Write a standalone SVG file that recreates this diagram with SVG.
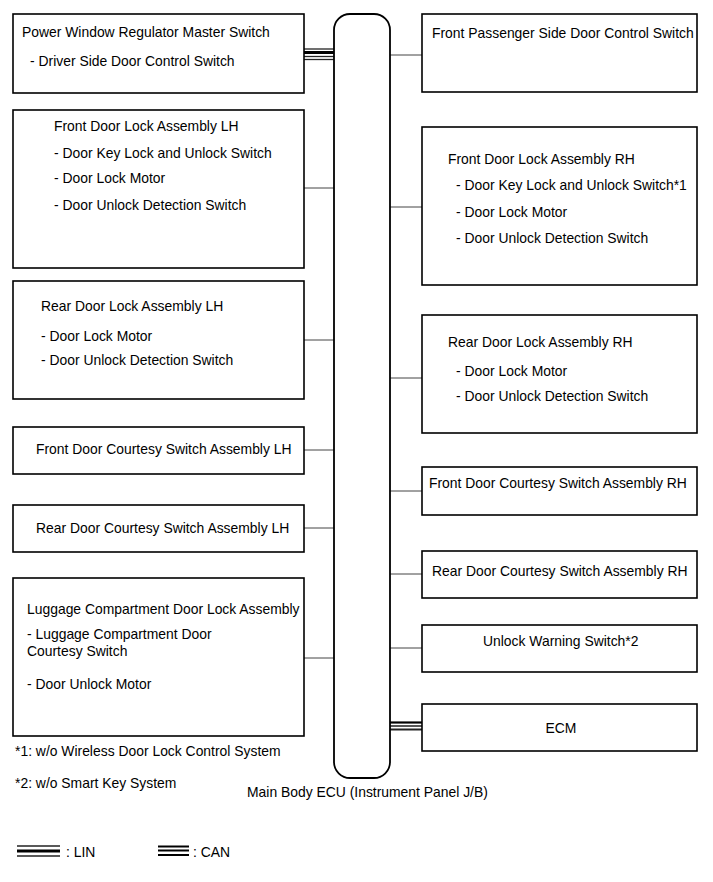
<svg xmlns="http://www.w3.org/2000/svg" width="713" height="882" viewBox="0 0 713 882">
<style>
.box{fill:#fff;stroke:#000;stroke-width:1.6}
.ecu{fill:#fff;stroke:#000;stroke-width:1.8}
.ln{stroke:#444;stroke-width:1;fill:none}
text{font-family:"Liberation Sans",Arial,sans-serif;font-size:13.9px;fill:#000}
.thk{stroke:#000;stroke-width:3}
.thn{stroke:#222;stroke-width:1.3}
</style>
<rect width="713" height="882" fill="#fff"/>
<g id="connectors">
  <line class="ln" x1="304" y1="188" x2="334" y2="188"/>
  <line class="ln" x1="304" y1="340" x2="334" y2="340"/>
  <line class="ln" x1="304" y1="450" x2="334" y2="450"/>
  <line class="ln" x1="304" y1="528" x2="334" y2="528"/>
  <line class="ln" x1="304" y1="658" x2="334" y2="658"/>
  <line class="ln" x1="390" y1="55" x2="422" y2="55"/>
  <line class="ln" x1="390" y1="207" x2="422" y2="207"/>
  <line class="ln" x1="390" y1="378" x2="422" y2="378"/>
  <line class="ln" x1="390" y1="491" x2="422" y2="491"/>
  <line class="ln" x1="390" y1="574" x2="422" y2="574"/>
  <line class="ln" x1="390" y1="648" x2="422" y2="648"/>
  <g id="lin-master">
    <line class="thn" x1="304" y1="49" x2="334" y2="49"/>
    <line class="thk" x1="304" y1="52.5" x2="334" y2="52.5"/>
    <line class="thn" x1="304" y1="56.5" x2="334" y2="56.5"/>
    <line class="thn" x1="304" y1="59.5" x2="334" y2="59.5" stroke="#666"/>
  </g>
  <g id="can-ecm">
    <line x1="390" y1="722.5" x2="422" y2="722.5" stroke="#000" stroke-width="2.2"/>
    <line x1="390" y1="726" x2="422" y2="726" stroke="#555" stroke-width="2"/>
    <line x1="390" y1="729.5" x2="422" y2="729.5" stroke="#222" stroke-width="2"/>
  </g>
</g>
<g id="ecu">
  <rect class="ecu" x="334" y="14" width="56" height="764" rx="16" ry="16"/>
  <text x="247" y="797">Main Body ECU (Instrument Panel J/B)</text>
</g>
<g id="master-switch">
  <rect class="box" x="13" y="14" width="291" height="79"/>
  <text x="22" y="37">Power Window Regulator Master Switch</text>
  <text x="30" y="66">- Driver Side Door Control Switch</text>
</g>
<g id="front-lock-lh">
  <rect class="box" x="13" y="110" width="291" height="158"/>
  <text x="54" y="131">Front Door Lock Assembly LH</text>
  <text x="54" y="158">- Door Key Lock and Unlock Switch</text>
  <text x="54" y="183">- Door Lock Motor</text>
  <text x="54" y="210">- Door Unlock Detection Switch</text>
</g>
<g id="rear-lock-lh">
  <rect class="box" x="13" y="281" width="291" height="118"/>
  <text x="41" y="311">Rear Door Lock Assembly LH</text>
  <text x="41" y="341">- Door Lock Motor</text>
  <text x="41" y="365">- Door Unlock Detection Switch</text>
</g>
<g id="front-courtesy-lh">
  <rect class="box" x="13" y="427" width="291" height="47"/>
  <text x="36" y="454">Front Door Courtesy Switch Assembly LH</text>
</g>
<g id="rear-courtesy-lh">
  <rect class="box" x="13" y="505" width="291" height="47"/>
  <text x="36" y="533">Rear Door Courtesy Switch Assembly LH</text>
</g>
<g id="luggage-lock">
  <rect class="box" x="13" y="578" width="291" height="158"/>
  <text x="27" y="614">Luggage Compartment Door Lock Assembly</text>
  <text x="27" y="639">- Luggage Compartment Door</text>
  <text x="27" y="656">Courtesy Switch</text>
  <text x="27" y="689">- Door Unlock Motor</text>
</g>
<g id="front-passenger-switch">
  <rect class="box" x="422" y="14" width="275" height="78"/>
  <text x="432" y="38">Front Passenger Side Door Control Switch</text>
</g>
<g id="front-lock-rh">
  <rect class="box" x="422" y="127" width="275" height="158"/>
  <text x="448" y="164">Front Door Lock Assembly RH</text>
  <text x="456" y="190">- Door Key Lock and Unlock Switch*1</text>
  <text x="456" y="217">- Door Lock Motor</text>
  <text x="456" y="243">- Door Unlock Detection Switch</text>
</g>
<g id="rear-lock-rh">
  <rect class="box" x="422" y="315" width="275" height="118"/>
  <text x="448" y="347">Rear Door Lock Assembly RH</text>
  <text x="456" y="376">- Door Lock Motor</text>
  <text x="456" y="401">- Door Unlock Detection Switch</text>
</g>
<g id="front-courtesy-rh">
  <rect class="box" x="422" y="467" width="275" height="48"/>
  <text x="429" y="488">Front Door Courtesy Switch Assembly RH</text>
</g>
<g id="rear-courtesy-rh">
  <rect class="box" x="422" y="551" width="275" height="47"/>
  <text x="432" y="576">Rear Door Courtesy Switch Assembly RH</text>
</g>
<g id="unlock-warning">
  <rect class="box" x="422" y="625" width="275" height="47"/>
  <text x="483" y="646">Unlock Warning Switch*2</text>
</g>
<g id="ecm">
  <rect class="box" x="422" y="704" width="275" height="47"/>
  <text x="561" y="733" text-anchor="middle">ECM</text>
</g>
<g id="notes">
  <text x="15" y="756">*1: w/o Wireless Door Lock Control System</text>
  <text x="15" y="788">*2: w/o Smart Key System</text>
</g>
<g id="legend">
  <line class="thn" x1="17" y1="846" x2="60" y2="846"/>
  <line class="thk" x1="17" y1="851" x2="60" y2="851" stroke-width="4"/>
  <line class="thn" x1="17" y1="856" x2="60" y2="856"/>
  <text x="66" y="857">: LIN</text>
  <line x1="158" y1="846.5" x2="189" y2="846.5" stroke="#000" stroke-width="2"/>
  <line x1="158" y1="850.5" x2="189" y2="850.5" stroke="#000" stroke-width="2"/>
  <line x1="158" y1="855" x2="189" y2="855" stroke="#000" stroke-width="2"/>
  <text x="193" y="857">: CAN</text>
</g>
</svg>
